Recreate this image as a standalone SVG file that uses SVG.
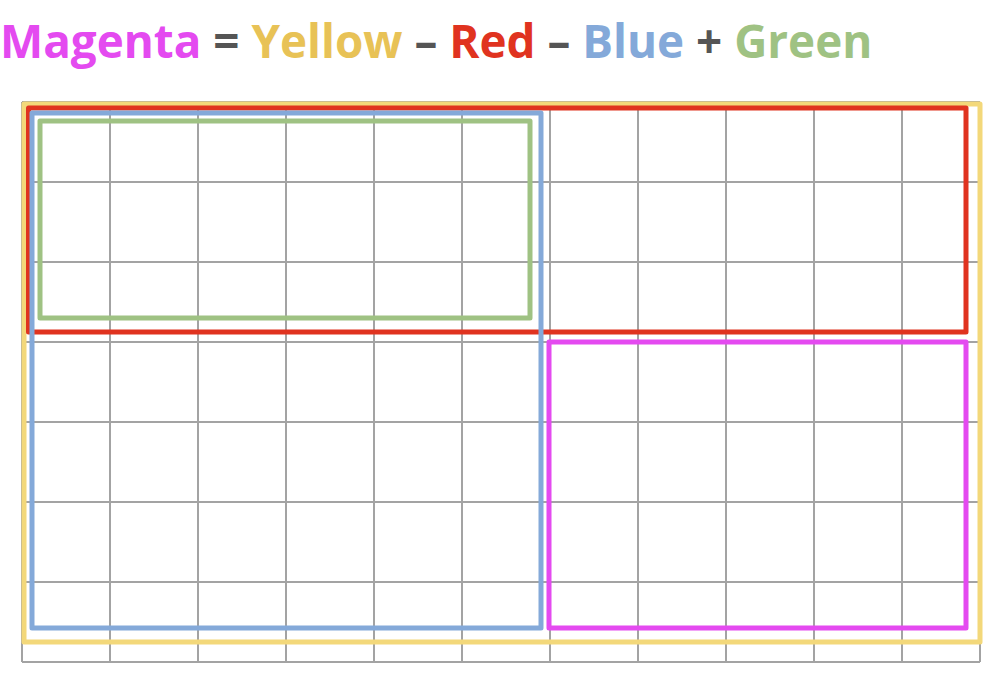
<svg xmlns="http://www.w3.org/2000/svg" width="994" height="687" viewBox="0 0 994 687">
<style>
.grid line{stroke:#a3a3a3;stroke-width:2}
.box{fill:none;stroke-width:5;stroke-linejoin:round}
.title{font-family:"Open Sans","Noto Sans",sans-serif;font-weight:bold;font-size:45.8px}
</style>
<rect width="994" height="687" fill="#ffffff"/>
<text class="title" x="0" y="58"><tspan fill="#e44af0">Magenta</tspan><tspan fill="#555555"> = </tspan><tspan fill="#e8c256">Yellow</tspan><tspan fill="#555555"> – </tspan><tspan fill="#e0331f">Red</tspan><tspan fill="#555555"> – </tspan><tspan fill="#84a9d9">Blue</tspan><tspan fill="#555555"> + </tspan><tspan fill="#9fc283">Green</tspan></text>
<g id="grid" class="grid">
<line x1="22" y1="102" x2="22" y2="662"/>
<line x1="110" y1="102" x2="110" y2="662"/>
<line x1="198" y1="102" x2="198" y2="662"/>
<line x1="286" y1="102" x2="286" y2="662"/>
<line x1="374" y1="102" x2="374" y2="662"/>
<line x1="462" y1="102" x2="462" y2="662"/>
<line x1="550" y1="102" x2="550" y2="662"/>
<line x1="638" y1="102" x2="638" y2="662"/>
<line x1="726" y1="102" x2="726" y2="662"/>
<line x1="814" y1="102" x2="814" y2="662"/>
<line x1="902" y1="102" x2="902" y2="662"/>
<line x1="980" y1="102" x2="980" y2="662"/>
<line x1="22" y1="102" x2="980" y2="102"/>
<line x1="22" y1="182" x2="980" y2="182"/>
<line x1="22" y1="262" x2="980" y2="262"/>
<line x1="22" y1="342" x2="980" y2="342"/>
<line x1="22" y1="422" x2="980" y2="422"/>
<line x1="22" y1="502" x2="980" y2="502"/>
<line x1="22" y1="582" x2="980" y2="582"/>
<line x1="22" y1="662" x2="980" y2="662"/>
</g>
<g id="yellow"><rect class="box" x="24" y="104" width="956" height="538" stroke="#f3d87a"/></g>
<g id="red"><rect class="box" x="28.5" y="108" width="937.5" height="224" stroke="#e0331f"/></g>
<g id="blue"><rect class="box" x="32" y="113" width="509" height="515" stroke="#84a9d9"/></g>
<g id="green"><rect class="box" x="40" y="121" width="490" height="197" stroke="#9fc283"/></g>
<g id="magenta"><rect class="box" x="549" y="342" width="417" height="286" stroke="#e44af0"/></g>
</svg>
